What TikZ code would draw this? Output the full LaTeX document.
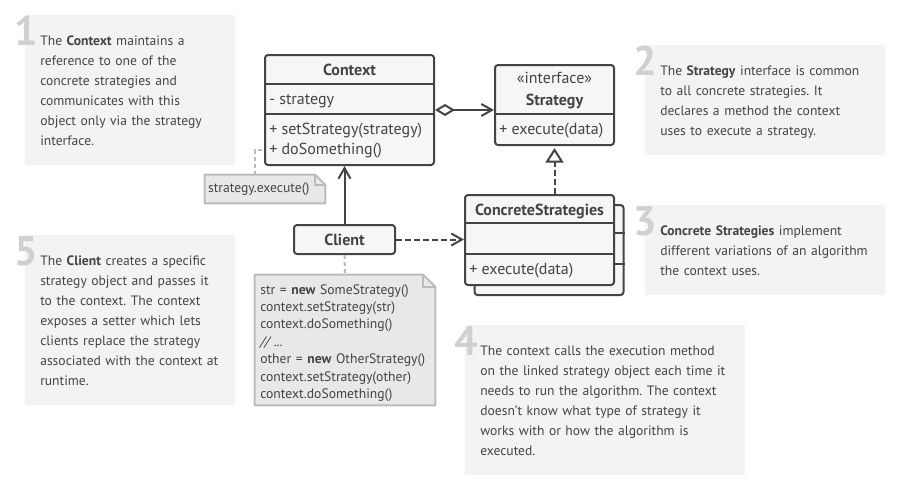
\documentclass[tikz,border=0pt]{standalone}
\usepackage{fontspec}
\setmainfont{PT Sans}
\usepackage{tikz}
\usetikzlibrary{arrows.meta}
\frenchspacing

\definecolor{inkgray}{HTML}{444444}
\definecolor{notebg}{HTML}{F3F3F3}
\definecolor{digitgray}{HTML}{D0D0D0}
\definecolor{boxfill}{HTML}{F6F6F6}
\definecolor{memofill}{HTML}{E8E8E8}
\definecolor{memoline}{HTML}{BBBBBB}

\tikzset{
  classbox/.style={draw=inkgray, fill=boxfill, line width=1.5pt, rounded corners=2.25pt, inner sep=0pt},
  classline/.style={draw=inkgray, line width=1.5pt},
  classname/.style={font=\fontsize{12}{14}\selectfont\bfseries, text=inkgray, inner sep=0pt},
  member/.style={font=\fontsize{12}{14}\selectfont, text=inkgray, inner sep=0pt, anchor=west, text height=1.5ex, text depth=.3ex},
  remark/.style={font=\fontsize{10.2}{15}\selectfont, text=inkgray, inner sep=0pt, anchor=base west, text width=230pt, align=left},
  digit/.style={font=\fontsize{31}{31}\selectfont\bfseries, text=digitgray, inner sep=0pt, anchor=base east},
  memo/.style={inner sep=0pt},
  memoedge/.style={draw=memoline, fill=memofill, line width=1.5pt, line join=round},
  memotext/.style={font=\fontsize{10.25}{13.1}\selectfont, text=inkgray, inner sep=0pt},
  notelink/.style={draw=memoline, line width=1.5pt, dash pattern=on 3pt off 2.25pt},
  assoc/.style={draw=inkgray, line width=1.5pt, -{Straight Barb[length=8pt,width=9pt]}},
  depends/.style={assoc, dash pattern=on 4.5pt off 2.25pt},
  aggr/.style={draw=inkgray, line width=1.5pt, {Diamond[open,length=15pt,width=9pt]}-{Straight Barb[length=8pt,width=9pt]}},
  realize/.style={draw=inkgray, line width=1.5pt, dash pattern=on 4.5pt off 2.25pt, -{Triangle[open,length=11pt,width=13.5pt]}, shorten >=1.5pt},
}

\begin{document}
\begin{tikzpicture}[x=0.75pt,y=0.75pt,yscale=-1,xscale=1]
    \path[use as bounding box] (0,0) rectangle (923,500);

    % note backgrounds
    \fill[notebg] (25,15) rectangle (235,165);
    \fill[notebg] (645,45) rectangle (885,155);
    \fill[notebg] (645,205) rectangle (885,295);
    \fill[notebg] (465,325) rectangle (745,475);
    \fill[notebg] (25,235) rectangle (235,405);

    % note texts
    \node[digit] (num1) at (38,45) {1};
    \node[remark] (txt1) at (40,45) {The \textbf{Context} maintains a\\reference to one of the\\concrete strategies and\\communicates with this\\object only via the strategy\\interface.};
    \node[digit] (num2) at (657,75) {2};
    \node[remark] (txt2) at (660,75) {The \textbf{Strategy} interface is common\\to all concrete strategies. It\\declares a method the context\\uses to execute a strategy.};
    \node[digit] (num3) at (657,235) {3};
    \node[remark] (txt3) at (660,235) {\textbf{Concrete Strategies} implement\\different variations of an algorithm\\the context uses.};
    \node[digit] (num4) at (478,355) {4};
    \node[remark] (txt4) at (480,355) {The context calls the execution method\\on the linked strategy object each time it\\needs to run the algorithm. The context\\doesn’t know what type of strategy it\\works with or how the algorithm is\\executed.};
    \node[digit] (num5) at (38,265) {5};
    \node[remark] (txt5) at (40,265) {The \textbf{Client} creates a specific\\strategy object and passes it\\to the context. The context\\exposes a setter which lets\\clients replace the strategy\\associated with the context at\\runtime.};

    % Context class
    \node[classbox, minimum width=126.75pt, minimum height=82.5pt] (ctx) at (349.5,110) {};
    \draw[classline] ([yshift=22.5pt]ctx.north west) -- ([yshift=22.5pt]ctx.north east);
    \draw[classline] ([yshift=45pt]ctx.north west) -- ([yshift=45pt]ctx.north east);
    \node[classname] (ctxname) at (349.5,70) {Context};
    \node[member] (ctxattr) at (269,100) {- strategy};
    \node[member] (ctxset) at (269,130) {+ setStrategy(strategy)};
    \node[member] (ctxdo) at (269,150) {+ doSomething()};

    % Strategy interface
    \node[classbox, minimum width=89.25pt, minimum height=60pt] (str) at (554.5,105) {};
    \draw[classline] ([yshift=37.5pt]str.north west) -- ([yshift=37.5pt]str.north east);
    \node[member, anchor=center] (strstereo) at (554.5,79) {«interface»};
    \node[classname] (strname) at (554.5,101) {Strategy};
    \node[member] (strexec) at (499,130) {+ execute(data)};

    % Concrete strategies
    \node[classbox, minimum width=111.75pt, minimum height=67.5pt] (csback) at (549,250) {};
    \draw[classline] ([yshift=21.75pt]csback.north west) -- ([yshift=21.75pt]csback.north east);
    \draw[classline] ([yshift=45pt]csback.north west) -- ([yshift=45pt]csback.north east);
    \node[classbox, minimum width=111.75pt, minimum height=67.5pt] (cs) at (539.5,240) {};
    \draw[classline] ([yshift=21.75pt]cs.north west) -- ([yshift=21.75pt]cs.north east);
    \draw[classline] ([yshift=45pt]cs.north west) -- ([yshift=45pt]cs.north east);
    \node[classname] (csname) at (539.5,211) {ConcreteStrategies};
    \node[member] (csexec) at (469,270) {+ execute(data)};

    % Client
    \node[classbox, classname, minimum width=75.75pt, minimum height=21.75pt] (cl) at (344.5,239.5) {Client};

    % memos
    \node[memo, minimum width=90pt, minimum height=21pt] (exnote) at (265,189) {};
    \node[memo, minimum width=135pt, minimum height=97.5pt] (code) at (345,340) {};
    \foreach \m/\f in {exnote/7.5pt, code/9pt} {
      \draw[memoedge] (\m.north west) -- ([xshift=-\f]\m.north east) -- ([yshift=\f]\m.north east) -- (\m.south east) -- (\m.south west) -- cycle;
      \draw[memoedge, fill=none] ([xshift=-\f]\m.north east) |- ([yshift=\f]\m.north east);
    }
    \node[memotext, anchor=west] (extext) at ([xshift=2.25pt]exnote.west) {strategy.execute()};
    \node[memotext, anchor=base west, text width=130pt, align=left] (codetext) at (260,294) {str = \textbf{new} SomeStrategy()\\context.setStrategy(str)\\context.doSomething()\\\textit{// ...}\\other = \textbf{new} OtherStrategy()\\context.setStrategy(other)\\context.doSomething()};

    % connectors
    \coordinate (exbend) at (255,150);
    \draw[notelink] (exnote.north -| exbend) -- (exbend) -- (exbend -| ctx.west);
    \draw[notelink] (cl.south) -- (code.north);
    \draw[aggr] (ctx.east) -- (ctx.east -| str.west);
    \draw[realize] (cs.north -| str.south) -- (str.south);
    \draw[assoc] (cl.north) -- (cl.north |- ctx.south);
    \draw[depends] (cl.east) -- (cl.east -| cs.west);

\end{tikzpicture}
\end{document}
